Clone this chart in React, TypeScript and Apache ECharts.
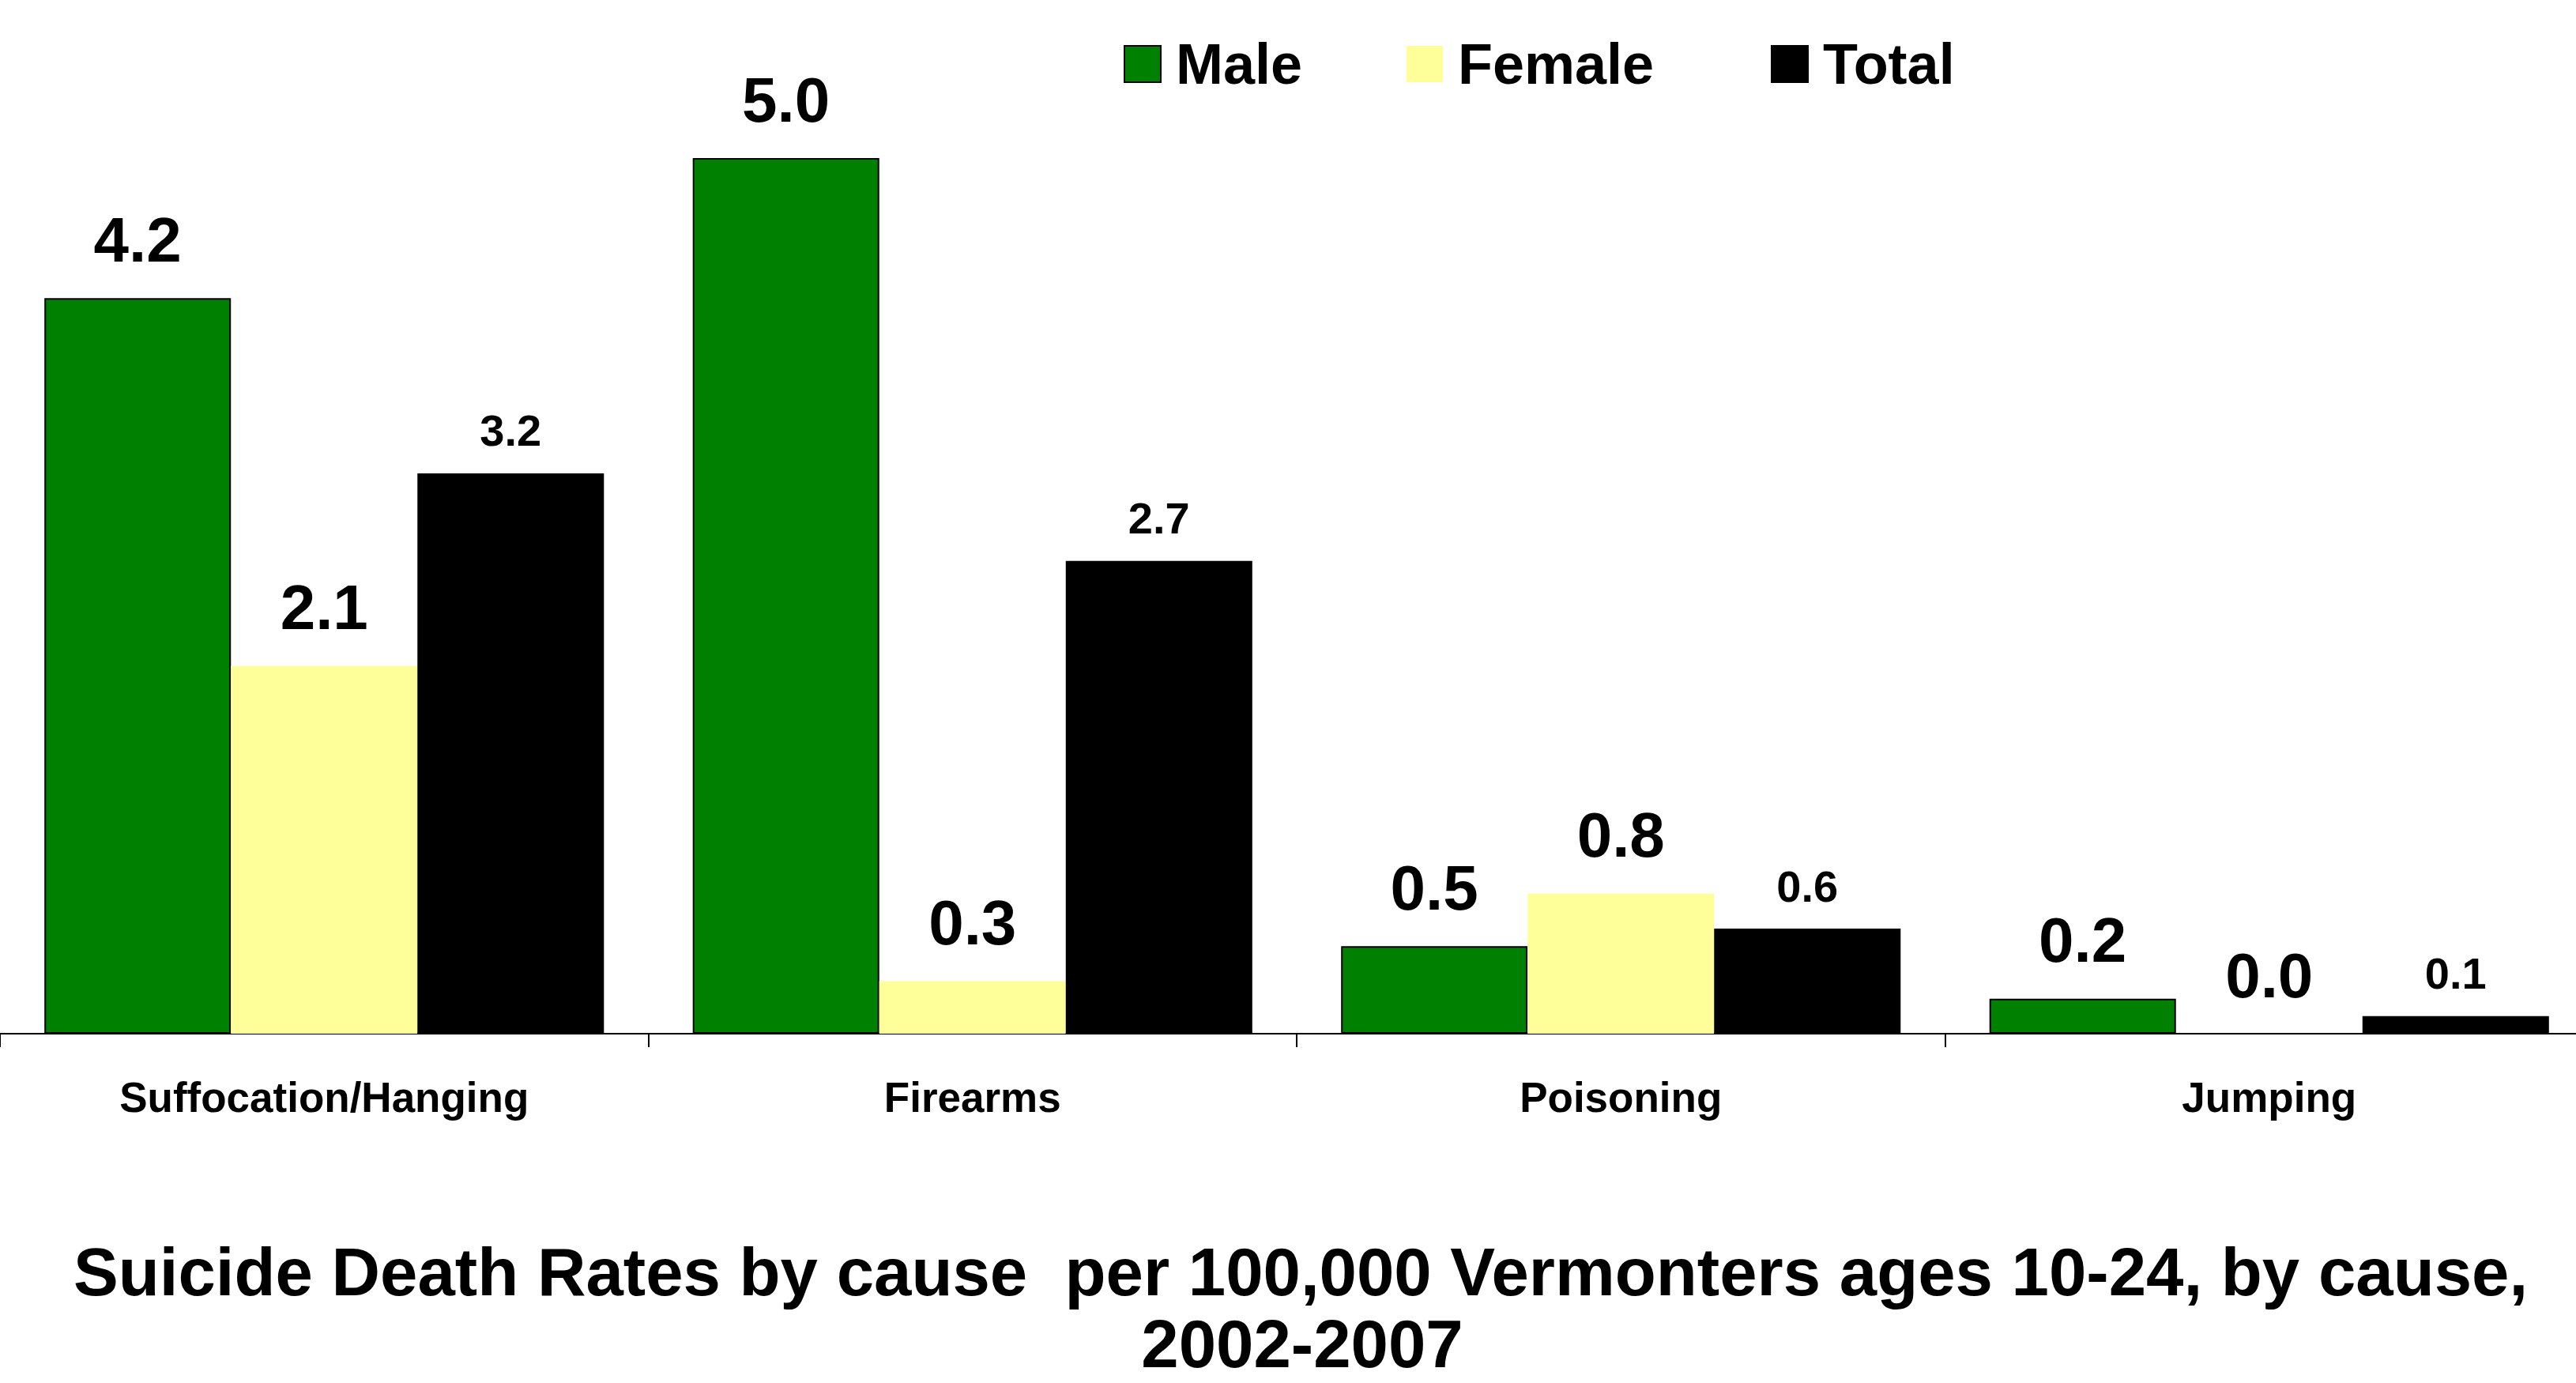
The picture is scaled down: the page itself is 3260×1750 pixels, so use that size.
import React, { useEffect, useRef } from "react";
import * as echarts from "echarts";

const categories = ["Suffocation/Hanging", "Firearms", "Poisoning", "Jumping"];
const maleValues = [4.2, 5.0, 0.5, 0.2];
const femaleValues = [2.1, 0.3, 0.8, 0.0];
const totalValues = [3.2, 2.7, 0.6, 0.1];
const seriesNames = ["Male", "Female", "Total"];
const titleLine1 = "Suicide Death Rates by cause  per 100,000 Vermonters ages 10-24, by cause,";
const titleLine2 = "2002-2007";

const FONT = '"Liberation Sans", Arial, sans-serif';

export default function App() {
  const ref = useRef<HTMLDivElement>(null);
  useEffect(() => {
    if (!ref.current) return;
    const chart = echarts.init(ref.current, null, { renderer: "svg" });
    const bigLabel = {
      show: true,
      position: "top",
      distance: 34,
      color: "#000",
      fontSize: 80,
      fontWeight: "bold",
      fontFamily: FONT,
      formatter: (p: any) => Number(p.value).toFixed(1),
    };
    const smallLabel = {
      ...bigLabel,
      fontSize: 56,
      distance: 26,
    };
    const titleStyle = {
      fontSize: 85.2,
      fontWeight: "bold",
      fontFamily: FONT,
      fill: "#000",
      textAlign: "center",
      textVerticalAlign: "middle",
      lineHeight: 80,
    };
    const legendBase = {
      top: 40,
      itemWidth: 46,
      itemHeight: 46,
      icon: "rect",
      textStyle: {
        fontSize: 72,
        fontWeight: "bold",
        color: "#000",
        fontFamily: FONT,
        padding: [0, 0, 0, 14],
      },
    };
    chart.setOption({
      animation: false,
      backgroundColor: "#fff",
      textStyle: { fontFamily: FONT },
      legend: [
        { ...legendBase, left: 1417, data: [seriesNames[0]] },
        { ...legendBase, left: 1775, data: [seriesNames[1]] },
        { ...legendBase, left: 2236, data: [seriesNames[2]] },
      ],
      grid: {
        left: 0,
        width: 3282,
        top: 200,
        bottom: 442,
        containLabel: false,
        outerBoundsMode: "none",
      },
      xAxis: {
        type: "category",
        data: categories,
        axisLine: { lineStyle: { color: "#000", width: 2 } },
        axisTick: { show: true, length: 17, lineStyle: { color: "#000", width: 2 } },
        axisLabel: {
          margin: 54,
          fontSize: 53,
          fontWeight: "bold",
          color: "#000",
          fontFamily: FONT,
        },
      },
      yAxis: {
        type: "value",
        min: 0,
        max: 5,
        show: false,
        splitLine: { show: false },
      },
      series: [
        {
          name: seriesNames[0],
          type: "bar",
          data: maleValues,
          barGap: "0%",
          barCategoryGap: "13.7%",
          itemStyle: { color: "#008000", borderColor: "#000", borderWidth: 2 },
          label: bigLabel,
        },
        {
          name: seriesNames[1],
          type: "bar",
          data: femaleValues,
          barGap: "0%",
          barCategoryGap: "13.7%",
          itemStyle: { color: "#FFFF99", borderWidth: 0 },
          label: bigLabel,
        },
        {
          name: seriesNames[2],
          type: "bar",
          data: totalValues,
          barGap: "0%",
          barCategoryGap: "13.7%",
          itemStyle: { color: "#000", borderColor: "#000", borderWidth: 2 },
          label: smallLabel,
        },
      ],
      graphic: [
        { type: "text", x: 1646, y: 1609, style: { ...titleStyle, text: titleLine1 } },
        { type: "text", x: 1648, y: 1700, style: { ...titleStyle, text: titleLine2 } },
      ],
    });
    return () => chart.dispose();
  }, []);
  return (
    <div
      ref={ref}
      style={{ position: "fixed", left: 0, top: 0, width: 3260, height: 1750 }}
    />
  );
}
